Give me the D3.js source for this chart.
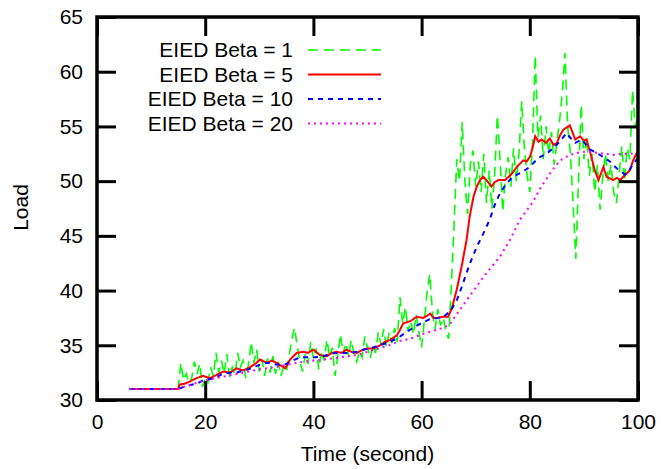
<!DOCTYPE html>
<html>
<head>
<meta charset="utf-8">
<script src="https://cdn.jsdelivr.net/npm/d3@7"></script>
<style>
  body { margin: 0; background: #fff; }
  text { font-family: "Liberation Sans", Arial, sans-serif; }
</style>
</head>
<body>
<script>
// Series as [time, load] pairs
const beta1 = [
    [6,31],[15,31],[15.5,33.4],[16,31.8],[16.5,32.4],[17,31.5],[17.5,32.0],[18,33.5],[18.5,32.4],[19,33.3],[19.5,31.2],
    [20,32.0],[20.5,31.6],[21,33.0],[21.5,32.2],[22,34.3],[22.5,32.5],[23,33.6],[23.5,32.4],[24,34.2],[24.5,32.1],
    [25,33.0],[25.5,32.3],[26,34.3],[26.5,33.0],[27,33.6],[27.5,32.0],[28,33.2],[28.5,35.3],[29,33.4],[29.5,34.6],
    [30,32.6],[30.5,33.7],[31,32.2],[31.5,33.8],[32,32.5],[32.5,34.0],[33,32.4],[33.5,33.5],[34,32.2],[34.5,33.0],
    [35,32.6],[35.5,34.0],[36,35.5],[36.5,36.6],[37,35.0],[37.5,33.5],[38,32.6],[38.5,34.2],[39,33.3],[39.5,35.3],
    [40,33.8],[40.5,34.7],[41,32.8],[41.5,34.5],[42,33.6],[42.5,35.5],[43,33.9],[43.5,34.8],[44,32.2],[44.5,34.0],
    [45,36.0],[45.5,34.2],[46,35.2],[46.5,34.0],[47,35.5],[47.5,34.2],[48,33.5],[48.5,34.5],[49,33.9],[49.5,35.8],
    [50,34.8],[50.5,33.8],[51,35.0],[51.5,34.3],[52,36.2],[52.5,35.0],[53,36.5],[53.5,34.8],[54,36.2],[54.5,35.2],
    [55,36.6],[55.5,35.3],[56,39.4],[56.5,37.0],[57,38.5],[57.5,36.3],[58,37.2],[58.5,36.0],[59,37.8],[59.5,36.2],
    [60,34.8],[60.5,37.2],[61,39.8],[61.5,41.5],[62,38.0],[62.5,36.5],[63,38.3],[63.5,36.8],[64,37.5],[64.5,36.2],
    [65,35.6],[65.5,40.5],[66,46.0],[66.5,52.0],[67,50.0],[67.5,55.4],[68,50.0],[68.5,47.0],[69,51.5],[69.5,52.8],
    [70,49.5],[70.5,51.8],[71,49.0],[71.5,52.5],[72,48.0],[72.5,51.0],[73,47.5],[73.5,50.5],[74,56.0],[74.5,52.0],
    [75,47.2],[75.5,50.5],[76,52.2],[76.5,49.5],[77,53.0],[77.5,50.0],[78,52.5],[78.5,57.3],[79,53.0],[79.5,50.5],
    [80,49.0],[80.5,53.5],[81,61.5],[81.5,54.0],[82,56.0],[82.5,52.0],[83,55.0],[83.5,52.5],[84,54.5],[84.5,51.5],
    [85,53.5],[85.5,55.5],[86,58.0],[86.5,61.7],[87,55.0],[87.5,52.5],[88,48.0],[88.5,42.9],[89,50.0],[89.5,57.0],
    [90,52.0],[90.5,54.0],[91,50.5],[91.5,52.5],[92,49.0],[92.5,51.5],[93,47.4],[93.5,50.5],[94,52.5],[94.5,50.0],
    [95,51.5],[95.5,49.0],[96,48.0],[96.5,50.5],[97,53.2],[97.5,50.0],[98,53.0],[98.5,52.0],[99,58.3],[99.5,55.0],
    [100,56.0]
];

const beta5 = [
    [6,31],[15,31],[15.3,31.4],[16.3,31.5],[17.2,31.7],[18.4,32.0],[19.6,32.2],[20.9,32.0],[22.1,32.3],[23.3,32.6],
    [24.6,32.5],[25.8,32.9],[27,32.7],[28.3,33.0],[29.5,33.4],[30.1,33.7],[31.4,33.4],[32.3,33.6],[33.2,33.4],[34.8,32.9],
    [35.7,33.7],[36.9,34.3],[38.1,34.4],[39,34.3],[40,34.6],[41.2,34.1],[42.5,34.0],[43.4,34.3],[44.3,34.4],[45.2,34.3],
    [46.1,34.6],[47,34.4],[48,34.3],[49.2,34.6],[50.1,34.7],[51.1,34.7],[52.3,35.0],[53.2,35.3],[54.2,35.5],[55.4,35.9],
    [56,36.4],[56.6,37.0],[57.9,37.2],[59.1,37.6],[60.3,37.5],[61,37.7],[61.6,37.9],[62.2,37.5],[62.8,37.5],[64,37.6],
    [64.9,37.6],[65.6,38.4],[66.5,40.1],[67.4,42.2],[68.3,44.6],[68.9,46.8],[69.6,48.6],[70.2,49.5],[70.8,50.1],[71.4,50.4],
    [72,50.1],[72.9,49.5],[73.5,49.9],[74.2,50.1],[75.4,50.1],[76.1,50.4],[76.7,50.7],[77.6,51.3],[78.8,51.9],[79.4,51.8],
    [80,52.2],[80.5,53.0],[81,54.1],[81.6,53.6],[82.2,53.8],[83,53.5],[83.7,53.9],[84.4,53.3],[85,53.5],[85.6,54.2],
    [86.2,54.7],[87.4,55.1],[88.4,53.8],[89.3,54.1],[90,53.7],[90.5,53.8],[91.4,52.2],[92,51.0],[92.7,50.1],[93.6,51.3],
    [94.2,50.4],[95.4,50.1],[96.1,50.3],[96.7,50.1],[97.9,50.7],[98.5,51.0],[99.1,51.9],[100,52.8]
];

const beta10 = [
    [6,31],[15,31],[16,31.2],[17.5,31.4],[18.5,31.5],[19.6,31.8],[20.8,31.9],[22.1,32.1],[23.3,32.4],[24.6,32.5],
    [25.8,32.5],[27,32.7],[28,32.8],[28.9,33.0],[30,33.2],[31.4,33.4],[32.5,33.3],[33.8,33.2],[35,33.3],[35.7,33.5],
    [37.5,33.9],[39,33.9],[40.5,33.9],[41.8,34.0],[43,34.2],[44.3,34.3],[45.5,34.3],[46.8,34.3],[48,34.4],[49.2,34.6],
    [51,34.8],[52.3,35.0],[53.5,35.2],[55.4,35.6],[57.2,36.2],[59.1,36.8],[60.3,37.1],[61.6,37.4],[63,37.5],[64,37.6],
    [65.3,38.1],[66.5,39.1],[67.4,40.3],[68.3,41.6],[69.2,42.8],[70.2,44.0],[71.4,45.2],[72.6,46.5],[73.5,47.8],[74.5,48.9],
    [75.7,49.8],[76.9,50.4],[78.8,50.9],[80,51.3],[81.5,52.1],[83.1,52.5],[84.3,53.0],[85.5,53.6],[86.8,54.4],[87.6,53.9],
    [88.4,53.5],[89.6,53.8],[91.1,52.9],[92.3,52.6],[93.6,52.2],[94.8,51.8],[96,51.2],[97.6,50.6],[98.4,51.0],[99.1,51.6],
    [100,52.1]
];

const beta20 = [
    [6,31],[15,31],[16,31.2],[18,31.5],[20,31.8],[22,32.0],[25,32.3],[28,32.6],[30,32.8],[33,33.0],
    [35,33.2],[38,33.5],[40,33.6],[42,33.7],[45,33.9],[48,34.1],[50,34.4],[52,34.7],[54,35.0],[56,35.4],
    [58,35.6],[60,36.0],[62,36.3],[64,36.6],[65.2,36.9],[66,37.5],[68,38.9],[70.2,40.4],[72,41.6],[74.5,43.1],
    [76.3,44.6],[78.2,46.5],[80.6,48.1],[82,49.4],[84,50.9],[85.6,51.9],[87.4,52.4],[89,52.6],[90.5,52.7],[92.4,52.6],
    [94,52.5],[95.4,52.4],[97,52.5],[98.5,52.5],[100,52.6]
];

const seriesNames = ['EIED Beta = 1', 'EIED Beta = 5', 'EIED Beta = 10', 'EIED Beta = 20'];
const xTicks = [0, 20, 40, 60, 80, 100];
const yTicks = [30, 35, 40, 45, 50, 55, 60, 65];

const width = 661;
const height = 469;
const margin = { top: 17, right: 23, bottom: 69, left: 97 };

const svg = d3.select('body').append('svg')
    .attr('width', width)
    .attr('height', height);

const x = d3.scaleLinear()
    .domain([0, 100])
    .range([margin.left, width - margin.right]);

const y = d3.scaleLinear()
    .domain([30, 65])
    .range([height - margin.bottom, margin.top]);

// line styles like gnuplot
const styles = [
    { data: beta1, color: '#00ff00', width: 1.6, dash: '10,6' },
    { data: beta5, color: '#ff0000', width: 2, dash: null },
    { data: beta10, color: '#0000ff', width: 2, dash: '5,5' },
    { data: beta20, color: '#ff00ff', width: 2, dash: '2,4' }
];

const line = d3.line()
    .x(d => x(d[0]))
    .y(d => y(d[1]));

const linesGroup = svg.append('g').attr('class', 'lines-group');
styles.forEach(s => {
    linesGroup.append('path')
        .datum(s.data)
        .attr('fill', 'none')
        .attr('stroke', s.color)
        .attr('stroke-width', s.width)
        .attr('stroke-dasharray', s.dash)
        .attr('d', line);
});

// Tengelyek - ticks point inwards, mirrored on top and right
const tickLen = 19;
const fontSize = 21;

const axisBottom = svg.append('g')
    .attr('transform', `translate(0, ${y(30)})`)
    .call(d3.axisBottom(x).tickValues(xTicks).tickSize(-tickLen).tickPadding(14));
const axisTop = svg.append('g')
    .attr('transform', `translate(0, ${y(65)})`)
    .call(d3.axisTop(x).tickValues(xTicks).tickSize(-tickLen).tickFormat(''));
const axisLeft = svg.append('g')
    .attr('transform', `translate(${x(0)}, 0)`)
    .call(d3.axisLeft(y).tickValues(yTicks).tickSize(-tickLen).tickPadding(14));
const axisRight = svg.append('g')
    .attr('transform', `translate(${x(100)}, 0)`)
    .call(d3.axisRight(y).tickValues(yTicks).tickSize(-tickLen).tickFormat(''));

[axisBottom, axisTop, axisLeft, axisRight].forEach(a => {
    a.select('.domain').remove();
    a.selectAll('line').attr('stroke', '#000').attr('stroke-width', 3);
    a.selectAll('text')
        .attr('fill', '#000')
        .style('font-size', fontSize + 'px');
});

// frame
svg.append('rect')
    .attr('x', x(0))
    .attr('y', y(65))
    .attr('width', x(100) - x(0))
    .attr('height', y(30) - y(65))
    .attr('fill', 'none')
    .attr('stroke', '#000')
    .attr('stroke-width', 3.5);

// Axis titles
svg.append('text')
    .attr('x', (x(0) + x(100)) / 2)
    .attr('y', 461)
    .attr('text-anchor', 'middle')
    .style('font-size', fontSize + 'px')
    .text('Time (second)');

svg.append('text')
    .attr('transform', `translate(28, ${(y(30) + y(65)) / 2 - 1}) rotate(-90)`)
    .attr('text-anchor', 'middle')
    .style('font-size', fontSize + 'px')
    .text('Load');

// Legend
const legend = svg.append('g').attr('class', 'legend');
styles.forEach((s, i) => {
    const baseY = 57 + i * 24.5;
    legend.append('text')
        .attr('x', 293)
        .attr('y', baseY)
        .attr('text-anchor', 'end')
        .style('font-size', fontSize + 'px')
        .text(seriesNames[i]);
    legend.append('line')
        .attr('x1', 308)
        .attr('x2', 381)
        .attr('y1', baseY - 7)
        .attr('y2', baseY - 7)
        .attr('stroke', s.color)
        .attr('stroke-width', s.width)
        .attr('stroke-dasharray', s.dash);
});
</script>
</body>
</html>
